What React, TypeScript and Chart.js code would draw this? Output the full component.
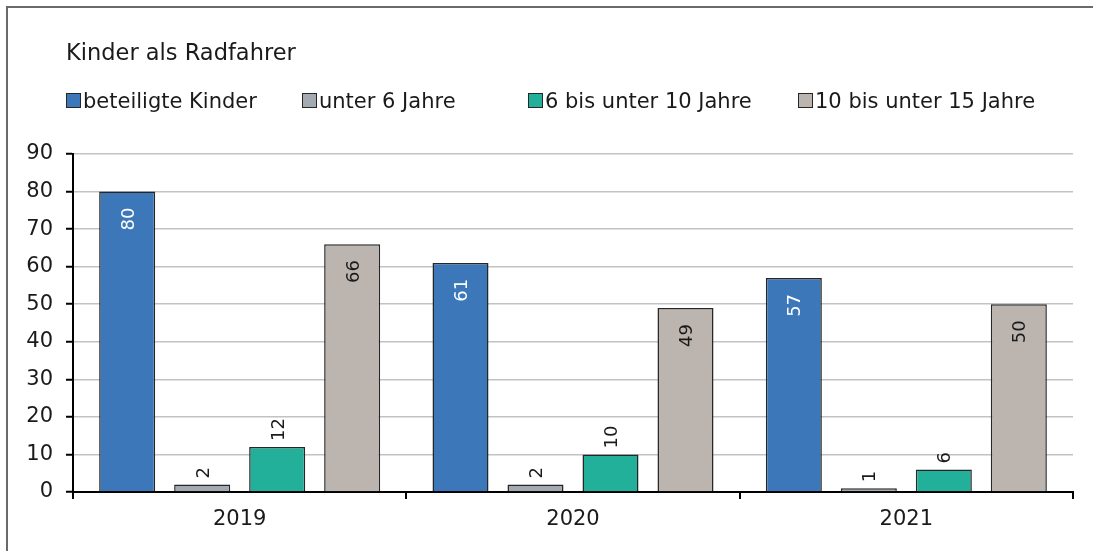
import React, { useEffect, useRef } from "react";
import { Chart, registerables } from "chart.js";

Chart.register(...registerables);

const title = "Kinder als Radfahrer";
const categories = ["2019", "2020", "2021"];
const seriesNames = ["beteiligte Kinder", "unter 6 Jahre", "6 bis unter 10 Jahre", "10 bis unter 15 Jahre"];
const beteiligteKinder = [80, 61, 57];
const unter6 = [2, 2, 1];
const sechsBis10 = [12, 10, 6];
const zehnBis15 = [66, 49, 50];
const yMin = 0;
const yMax = 90;
const yStep = 10;

const colors = ["#3c78b9", "#a4aab1", "#22b09a", "#bcb4ae"];
const labelInside = [true, false, false, true];
const labelColors = ["#ffffff", "#1a1a1a", "#1a1a1a", "#1a1a1a"];
const FONT = "'DejaVu Sans', sans-serif";

const framePlugin = {
  id: "frame",
  beforeDraw(chart: any) {
    const ctx = chart.ctx;
    ctx.save();
    ctx.fillStyle = "#ffffff";
    ctx.fillRect(0, 0, chart.width, chart.height);
    ctx.strokeStyle = "#6a6a6a";
    ctx.lineWidth = 2;
    ctx.beginPath();
    ctx.moveTo(7, chart.height);
    ctx.lineTo(7, 7);
    ctx.lineTo(chart.width, 7);
    ctx.stroke();
    ctx.restore();
  },
};

const headerPlugin = {
  id: "header",
  afterDraw(chart: any) {
    const ctx = chart.ctx;
    ctx.save();
    ctx.fillStyle = "#1a1a1a";
    ctx.textBaseline = "alphabetic";
    ctx.textAlign = "left";
    ctx.font = `22.5px ${FONT}`;
    ctx.fillText(title, 66, 59.5);
    const boxX = [66, 302, 528, 798];
    ctx.font = `21px ${FONT}`;
    chart.data.datasets.forEach((ds: any, i: number) => {
      ctx.fillStyle = ds.backgroundColor;
      ctx.fillRect(boxX[i] + 0.5, 93.5, 14, 14);
      ctx.strokeStyle = "#262626";
      ctx.lineWidth = 1;
      ctx.strokeRect(boxX[i] + 0.5, 93.5, 14, 14);
      ctx.fillStyle = "#1a1a1a";
      ctx.fillText(ds.label, boxX[i] + 17, 107.5);
    });
    ctx.restore();
  },
};

const dataLabelPlugin = {
  id: "barLabels",
  afterDatasetsDraw(chart: any) {
    const ctx = chart.ctx;
    ctx.save();
    ctx.font = `18px ${FONT}`;
    ctx.textBaseline = "alphabetic";
    chart.data.datasets.forEach((ds: any, di: number) => {
      const meta = chart.getDatasetMeta(di);
      meta.data.forEach((bar: any, i: number) => {
        const v = ds.data[i];
        ctx.save();
        ctx.translate(bar.x, bar.y);
        ctx.rotate(-Math.PI / 2);
        ctx.fillStyle = labelColors[di];
        if (labelInside[di]) {
          ctx.textAlign = "right";
          ctx.fillText(String(v), -16, 6.5);
        } else {
          ctx.textAlign = "left";
          ctx.fillText(String(v), 6, 6.5);
        }
        ctx.restore();
      });
    });
    ctx.restore();
  },
};

export default function App() {
  const ref = useRef<HTMLCanvasElement>(null);
  useEffect(() => {
    if (!ref.current) return;
    const seriesValues = [beteiligteKinder, unter6, sechsBis10, zehnBis15];
    const chart = new Chart(ref.current, {
      type: "bar",
      data: {
        labels: categories,
        datasets: seriesValues.map((vals, i) => ({
          label: seriesNames[i],
          data: vals,
          backgroundColor: colors[i],
          borderColor: "#262626",
          borderWidth: 1.5,
          categoryPercentage: 0.9,
          barPercentage: 0.747,
        })),
      },
      options: {
        responsive: false,
        animation: false,
        devicePixelRatio: 1,
        layout: { padding: { left: 0, top: 154, right: 20, bottom: 0 } },
        plugins: {
          legend: { display: false },
          title: { display: false },
          tooltip: { enabled: false },
        },
        scales: {
          x: {
            grid: {
              display: true,
              offset: true,
              drawOnChartArea: false,
              drawTicks: true,
              tickLength: 7,
              tickColor: "#000000",
              lineWidth: 2,
            },
            border: { display: true, color: "#000000", width: 2 },
            ticks: {
              color: "#1a1a1a",
              font: { family: FONT, size: 21 },
              padding: 8,
              maxRotation: 0,
            },
            afterFit(scale: any) {
              scale.height = 59;
            },
          },
          y: {
            min: yMin,
            max: yMax,
            grid: {
              color: "#bfc3c8",
              lineWidth: 1.5,
              drawTicks: true,
              tickLength: 7,
              tickColor: "#000000",
              tickWidth: 2,
            },
            border: { display: true, color: "#000000", width: 2 },
            ticks: {
              stepSize: yStep,
              color: "#1a1a1a",
              font: { family: FONT, size: 21 },
              padding: 13,
            },
            afterFit(scale: any) {
              scale.width = 73;
            },
          },
        },
      },
      plugins: [framePlugin, dataLabelPlugin, headerPlugin],
    });
    return () => chart.destroy();
  }, []);
  return (
    <div style={{ position: "fixed", left: 0, top: 0, width: 1093, height: 551, background: "#fff" }}>
      <canvas ref={ref} width={1093} height={551} style={{ width: 1093, height: 551, display: "block" }} />
    </div>
  );
}
